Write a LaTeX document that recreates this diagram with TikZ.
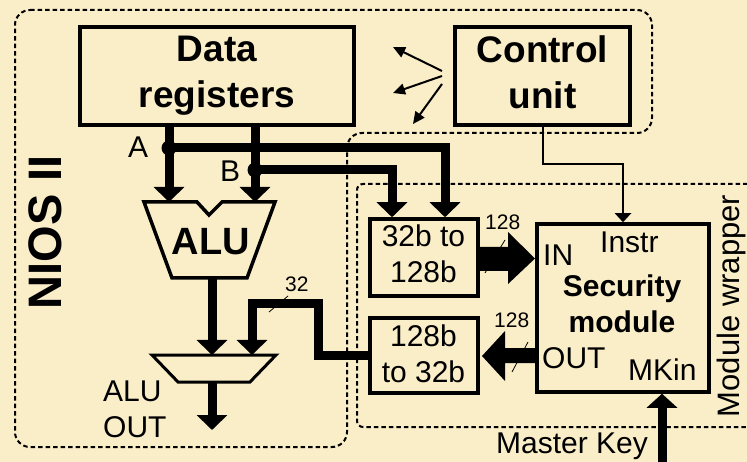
\documentclass[tikz,border=0pt]{standalone}
\usepackage{fontspec}
\setmainfont{Liberation Sans}
\usetikzlibrary{arrows.meta}
\definecolor{bgcol}{RGB}{250,238,201}
\newcommand{\myfs}[2]{\fontsize{#1}{#2}\selectfont}
\begin{document}
\begin{tikzpicture}[x=1pt,y=-1pt,
  box/.style={draw, line width=3.5pt, inner sep=0pt},
  bus/.style={line width=9pt, line join=miter},
  bustip/.style={-{Triangle[width=30pt,length=15pt]}},
  thinline/.style={line width=2pt},
  borderline/.style={line width=2pt, dash pattern=on 4.5pt off 3pt},
  lbl/.style={font=\myfs{30}{36}, inner sep=0pt},
  wlbl/.style={font=\myfs{21}{24}, inner sep=0pt},
  slash/.style={line width=0.8pt},
]
\useasboundingbox (0,0) rectangle (747,462);
\fill[bgcol] (0,0) rectangle (747,462);

% dashed boundaries
\draw[borderline, rounded corners=15pt] (15,10) -- (652,10) -- (652,133) -- (347,133) -- (347,447) -- (15,447) -- cycle;
\draw[borderline, rounded corners=6pt] (770,184) -- (357,184) -- (357,427) -- (770,427);

% boxes
\node[box, minimum width=274pt, minimum height=98pt, font=\bfseries\myfs{37}{46}, align=center] (dr) at (217,76) {Data\\registers};
\node[box, minimum width=175pt, minimum height=98pt, font=\bfseries\myfs{37}{46}, align=center] (cu) at (542.5,76) {Control\\unit\vphantom{g}};
\node[box, minimum width=172pt, minimum height=168pt] (sm) at (623,308) {};
\node[box, minimum width=108pt, minimum height=77pt] (up) at (424,257.5) {};
\node[box, minimum width=108pt, minimum height=75pt] (down) at (424,355.5) {};

\node[font=\bfseries\myfs{30}{36}, align=center, inner sep=0pt] (smt) at (622,304) {Security\\module};
\node[lbl, align=center] (upt) at (423.5,254) {32b to\\128b};
\node[lbl, align=center] (downt) at (423.5,354) {128b\\to 32b};

\node[lbl, anchor=base west] (instr) at (600,253) {Instr};
\node[lbl, anchor=base west] (inl) at (543,266) {IN};
\node[lbl, anchor=base west] (outl) at (542,368) {OUT};
\node[lbl, anchor=base west] (mkin) at (628,380) {MKin};
\node[lbl, anchor=base east] (mk) at (648,453) {Master Key};
\node[lbl, anchor=base west] (la) at (128,158) {A};
\node[lbl, anchor=base west] (lb) at (220,182) {B};
\node[lbl, align=left, anchor=north west] (aluout) at (103,380.5) {ALU\\OUT};
\node[font=\bfseries\myfs{38}{40}, inner sep=0pt, anchor=base] (alu) at (211,255) {ALU};
\node[wlbl, anchor=base west] (w1) at (485,230) {128};
\node[wlbl, anchor=base west] (w2) at (494,327) {128};
\node[wlbl, anchor=base west] (w3) at (285,292) {32};

\node[font=\bfseries\myfs{47}{48}, rotate=90, inner sep=0pt] (nios) at (45,232) {NIOS II};
\node[font=\myfs{31}{33}, rotate=90, inner sep=0pt] (mw) at (731,306) {Module wrapper};

% ALU and mux shapes
\draw[line width=3.5pt, line join=miter] (144,202) -- (197,202) -- (209,215) -- (222,202) -- (275,202) -- (247,278) -- (172,278) -- cycle;
\draw[line width=3pt, line join=miter] (152,355) -- (276,355) -- (250,382) -- (178,382) -- cycle;

% coordinates
\coordinate (ja) at (169,148);
\coordinate (jb) at (255,170);
\coordinate (alua) at (169,202);
\coordinate (alub) at (255,202);
\coordinate (xa) at (445,0);
\coordinate (xb) at (392,0);
\coordinate (aluo) at (212,278);
\coordinate (muxa) at (212,355);
\coordinate (muxo) at (212,382);
\coordinate (res) at (212,430);
\coordinate (muxb) at (252,355);
\coordinate (mkb) at (662,462);
\coordinate (c1) at (442,71);
\coordinate (c2) at (442,76);
\coordinate (c3) at (442,84);
\coordinate (e1) at (393,47);
\coordinate (e2) at (393,93);
\coordinate (e3) at (413,124);

% buses
\draw[bus, bustip] (dr.south -| ja) -- (alua);
\draw[bus, bustip] (dr.south -| jb) -- (alub);
\draw[bus, bustip] (ja) -| (up.north -| xa);
\draw[bus, bustip] (jb) -| (up.north -| xb);
\fill (ja) circle (7.5pt);
\fill (jb) circle (7.5pt);
\draw[bus, bustip] (aluo) -- (muxa);
\draw[bus, bustip] (muxo) -- (res);
\draw[bus, bustip] (down.west) -- (318,355.5) -- (318,304) -- (252,304) -- (muxb);
\draw[bus, -{Triangle[width=30pt,length=14pt]}] (mkb) -- (sm.south -| mkb);

% wide 128-bit block arrows
\fill (up.east |- 0,247) -- (508,247) -- (508,232) -- (535,258.5) -- (508,284) -- (508,271) -- (up.east |- 0,271) -- cycle;
\fill (sm.west |- 0,348) -- (505,348) -- (505,331) -- (482,356) -- (505,381) -- (505,363) -- (sm.west |- 0,363) -- cycle;

% width slashes
\draw[slash] (485,273) -- (505,240);
\draw[slash] (512,372) -- (528,342);
\draw[slash] (269,312) -- (288,296);

% control lines
\draw[thinline, -{Triangle[width=16pt,length=9pt]}] (cu.south) -- ++(0,37) -| (sm.north);
\draw[thinline, -{Triangle[width=11pt,length=12pt]}] (c1) -- (e1);
\draw[thinline, -{Triangle[width=11pt,length=12pt]}] (c2) -- (e2);
\draw[thinline, -{Triangle[width=11pt,length=12pt]}] (c3) -- (e3);
\end{tikzpicture}
\end{document}
